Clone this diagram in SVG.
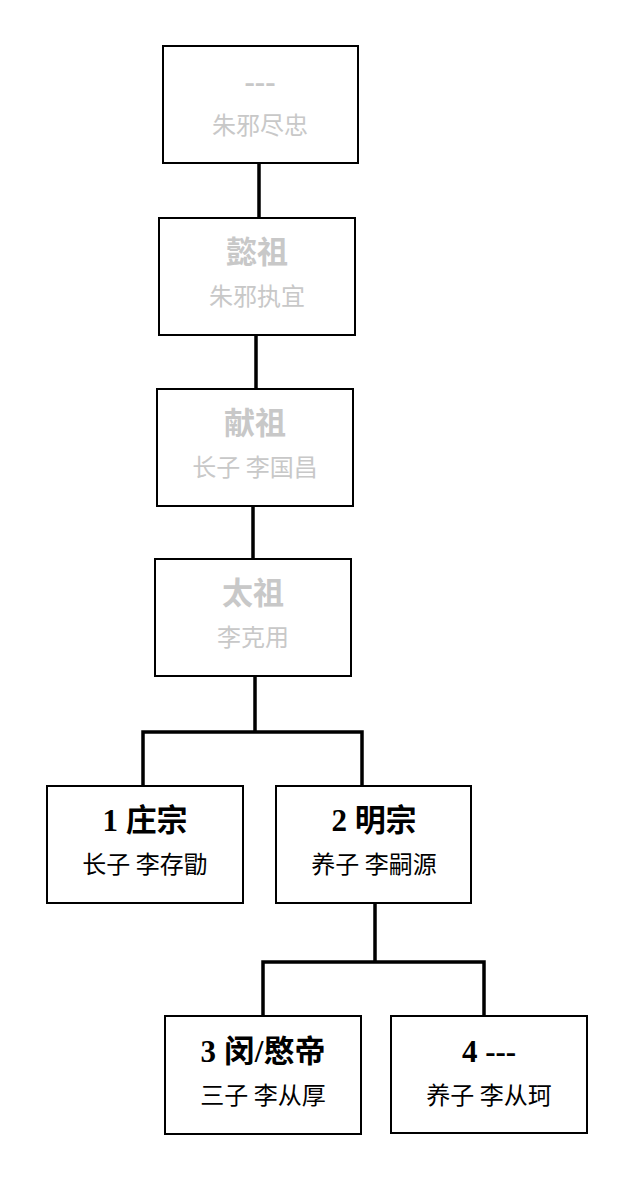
<svg xmlns="http://www.w3.org/2000/svg" width="640" height="1180" viewBox="0 0 640 1180">
<style>
.b{fill:#fff;stroke:#000;stroke-width:2}
.t{font-family:"Liberation Serif","Noto Sans CJK SC",serif;font-weight:bold;font-size:31px;text-anchor:middle}
.s{font-family:"Noto Sans CJK SC",sans-serif;font-size:24px;text-anchor:middle}
.g{fill:#c8c8c8}
.c{fill:none;stroke:#000;stroke-width:3.5}
</style>
<rect width="640" height="1180" fill="#fff"/>
<g id="connectors">
<path class="c" d="M259 163V218M256 335V389M253 506V559M255 676V732M143 786V732H362V786M375 903V962M263 1016V962H484V1016"/>
</g>
<g id="n1"><rect class="b" x="163" y="46" width="195" height="117"/><text class="t g" x="260" y="92">---</text><text class="s g" x="260" y="134">朱邪尽忠</text></g>
<g id="n2"><rect class="b" x="159" y="218" width="196" height="117"/><text class="t g" x="257" y="263">懿祖</text><text class="s g" x="257" y="305">朱邪执宜</text></g>
<g id="n3"><rect class="b" x="157" y="389" width="196" height="117"/><text class="t g" x="255" y="434">献祖</text><text class="s g" x="255" y="476">长子  李国昌</text></g>
<g id="n4"><rect class="b" x="155" y="559" width="196" height="117"/><text class="t g" x="253" y="604">太祖</text><text class="s g" x="253" y="646">李克用</text></g>
<g id="n5"><rect class="b" x="47" y="786" width="196" height="117"/><text class="t" x="145" y="831">1 庄宗</text><text class="s" x="145" y="873">长子  李存勖</text></g>
<g id="n6"><rect class="b" x="276" y="786" width="195" height="117"/><text class="t" x="374" y="831">2 明宗</text><text class="s" x="374" y="873">养子  李嗣源</text></g>
<g id="n7"><rect class="b" x="165" y="1016" width="196" height="118"/><text class="t" x="263" y="1062">3  闵/愍帝</text><text class="s" x="263" y="1104">三子  李从厚</text></g>
<g id="n8"><rect class="b" x="391" y="1016" width="196" height="117"/><text class="t" x="489" y="1062">4 ---</text><text class="s" x="489" y="1104">养子  李从珂</text></g>
</svg>
